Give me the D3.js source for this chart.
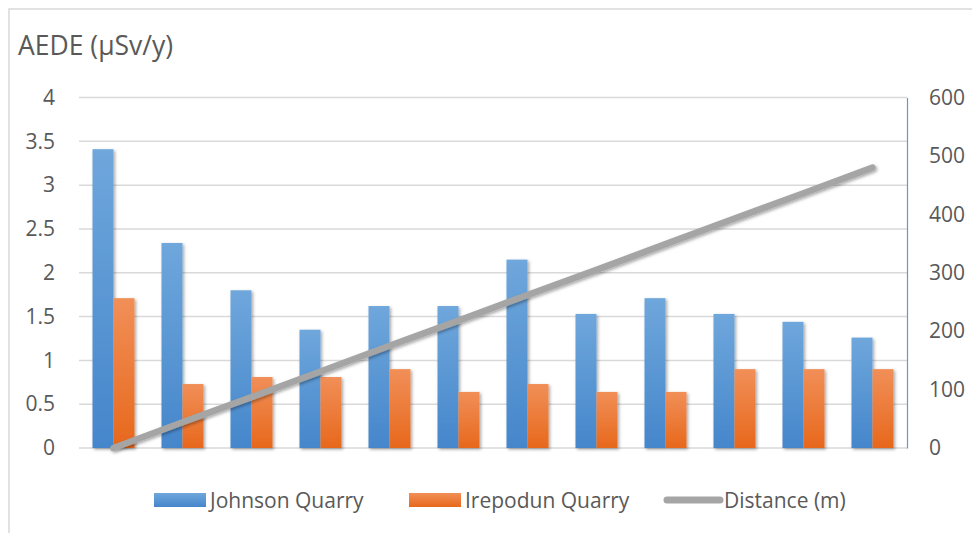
<!DOCTYPE html>
<html>
<head>
<meta charset="utf-8">
<script src="https://cdn.jsdelivr.net/npm/d3@7"></script>
<style>
  html, body { margin: 0; padding: 0; background: #fff; }
  svg { display: block; font-family: "Open Sans", "Noto Sans", sans-serif; }
</style>
</head>
<body>
<svg id="chart" width="972" height="533"></svg>
<script>
// Sampling points along the transect
const categories = ["P1", "P2", "P3", "P4", "P5", "P6", "P7", "P8", "P9", "P10", "P11", "P12"];
// Annual effective dose equivalent (µSv/y)
const johnson = [3.41, 2.34, 1.80, 1.35, 1.62, 1.62, 2.15, 1.53, 1.71, 1.53, 1.44, 1.26];
const irepodun = [1.71, 0.73, 0.81, 0.81, 0.90, 0.64, 0.73, 0.64, 0.64, 0.90, 0.90, 0.90];
// Distance from quarry (m)
const distance = [0, 44, 87, 131, 175, 218, 262, 305, 349, 393, 436, 480];
const leftTicks = [0, 0.5, 1, 1.5, 2, 2.5, 3, 3.5, 4];
const rightTicks = [0, 100, 200, 300, 400, 500, 600];
const seriesNames = ["Johnson Quarry", "Irepodun Quarry", "Distance (m)"];

const svg = d3.select("#chart");
const textColor = "#595959";
const margin = { left: 79, right: 65, top: 97.5, bottom: 85 };
const W = 972, H = 533;
const x0 = margin.left, x1 = W - margin.right;
const yTop = margin.top, yBot = H - margin.bottom;

const x = d3.scaleBand().domain(categories).range([x0, x1]).paddingInner(0).paddingOuter(0);
const yL = d3.scaleLinear().domain([0, 4]).range([yBot, yTop]);
const yR = d3.scaleLinear().domain([0, 600]).range([yBot, yTop]);

const defs = svg.append("defs");
function grad(id, top, bottom) {
  const g = defs.append("linearGradient").attr("id", id)
    .attr("x1", 0).attr("y1", 0).attr("x2", 0).attr("y2", 1);
  g.append("stop").attr("offset", "0%").attr("stop-color", top);
  g.append("stop").attr("offset", "100%").attr("stop-color", bottom);
}
grad("gBlue", "#6fa7dc", "#4586cb");
grad("gOrange", "#f18f58", "#e7681c");
const sh = defs.append("filter").attr("id", "shadow")
  .attr("x", "-30%").attr("y", "-10%").attr("width", "170%").attr("height", "130%");
sh.append("feDropShadow").attr("dx", 1.5).attr("dy", 1.5).attr("stdDeviation", 1.8)
  .attr("flood-color", "#000").attr("flood-opacity", 0.35);

// Chart frame
svg.append("rect").attr("x", 9).attr("y", 9).attr("width", 980).attr("height", 540)
  .attr("fill", "none").attr("stroke", "#d9d9d9").attr("stroke-width", 1.5);

// Title
svg.append("text").attr("x", 18).attr("y", 55).attr("fill", textColor)
  .attr("font-size", 26.5).text("AEDE (µSv/y)");

// Gridlines
svg.append("g").selectAll("line").data(leftTicks).join("line")
  .attr("x1", x0).attr("x2", x1)
  .attr("y1", d => yL(d)).attr("y2", d => yL(d))
  .attr("stroke", "#d9d9d9").attr("stroke-width", 1.5);

// Left axis labels
const axL = d3.axisLeft(yL).tickValues(leftTicks).tickSize(0).tickPadding(24)
  .tickFormat(d => String(d));
const gL = svg.append("g").attr("transform", `translate(${x0},0)`).call(axL);
gL.select(".domain").remove();
gL.selectAll("text").attr("fill", textColor).attr("font-size", 21)
  .attr("font-family", "'Open Sans', sans-serif");

// Right axis
const axR = d3.axisRight(yR).tickValues(rightTicks).tickSize(0).tickPadding(22);
const gR = svg.append("g").attr("transform", `translate(${x1},0)`).call(axR);
gR.select(".domain").attr("stroke", "#5b9bd5").attr("stroke-width", 1.2);
gR.selectAll("text").attr("fill", textColor).attr("font-size", 21)
  .attr("font-family", "'Open Sans', sans-serif");

// Bars
const bw = 21;
const bars = svg.append("g").attr("filter", "url(#shadow)");
bars.selectAll("rect.j").data(johnson).join("rect").attr("class", "j")
  .attr("x", (d, i) => x(categories[i]) + x.bandwidth() / 2 - bw)
  .attr("width", bw)
  .attr("y", d => yL(d)).attr("height", d => yBot - yL(d))
  .attr("fill", "url(#gBlue)");
bars.selectAll("rect.r").data(irepodun).join("rect").attr("class", "r")
  .attr("x", (d, i) => x(categories[i]) + x.bandwidth() / 2)
  .attr("width", bw)
  .attr("y", d => yL(d)).attr("height", d => yBot - yL(d))
  .attr("fill", "url(#gOrange)");

// Distance line
const line = d3.line()
  .x((d, i) => x(categories[i]) + x.bandwidth() / 2)
  .y(d => yR(d));
svg.append("path").datum(distance).attr("d", line)
  .attr("fill", "none").attr("stroke", "#a5a5a5").attr("stroke-width", 6.5)
  .attr("stroke-linecap", "round").attr("filter", "url(#shadow)");

// Legend
const ly = 500;
const leg = svg.append("g");
leg.append("rect").attr("x", 154).attr("y", ly - 7).attr("width", 52).attr("height", 14)
  .attr("fill", "url(#gBlue)");
leg.append("text").attr("x", 210).attr("y", ly + 7.5).attr("fill", textColor)
  .attr("font-size", 21).text(seriesNames[0]);
leg.append("rect").attr("x", 409).attr("y", ly - 7).attr("width", 52).attr("height", 14)
  .attr("fill", "url(#gOrange)");
leg.append("text").attr("x", 465).attr("y", ly + 7.5).attr("fill", textColor)
  .attr("font-size", 21).text(seriesNames[1]);
leg.append("line").attr("x1", 667).attr("x2", 720).attr("y1", ly).attr("y2", ly)
  .attr("stroke", "#a5a5a5").attr("stroke-width", 7).attr("stroke-linecap", "round");
leg.append("text").attr("x", 724).attr("y", ly + 7.5).attr("fill", textColor)
  .attr("font-size", 21).text(seriesNames[2]);
</script>
</body>
</html>
